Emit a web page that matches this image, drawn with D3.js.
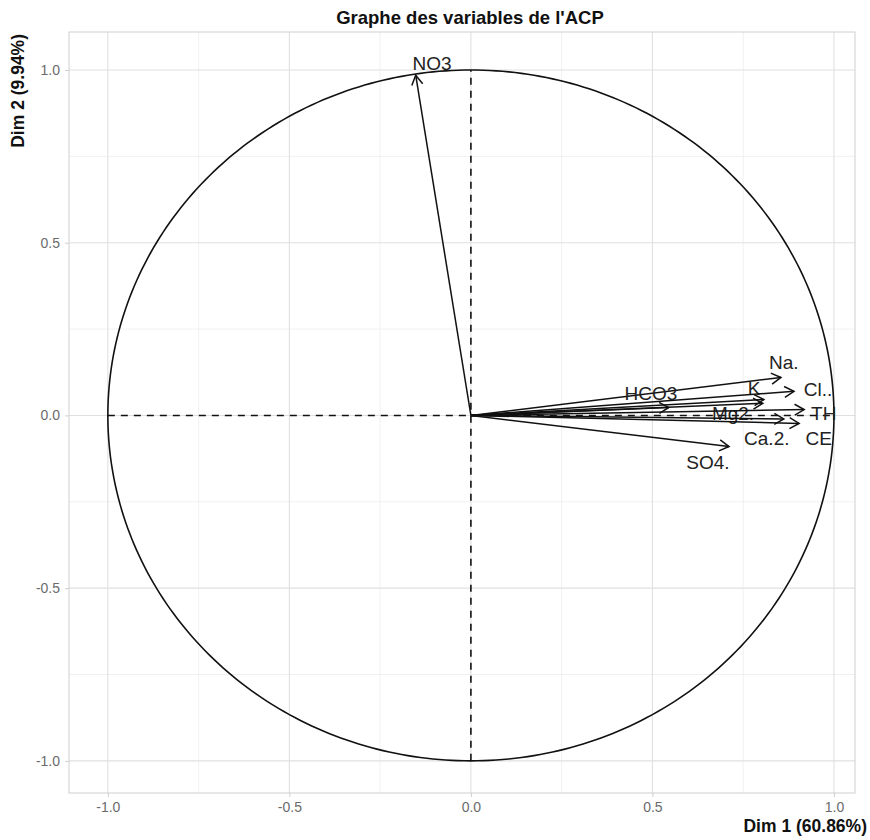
<!DOCTYPE html>
<html><head><meta charset="utf-8">
<script src="https://cdn.jsdelivr.net/npm/d3@7"></script>
<style>body{margin:0;background:#fff}</style>
</head><body>
<svg id="c" width="870" height="840"></svg>
<script>
const variables = ["NO3","Na.","K","Cl..","HCO3","Mg2.","TH","Ca.2.","CE","SO4."];
const dim1 = [-0.152, 0.854, 0.807, 0.890, 0.545, 0.804, 0.918, 0.862, 0.904, 0.711];
const dim2 = [0.985, 0.110, 0.046, 0.070, 0.023, 0.035, 0.017, -0.010, -0.023, -0.090];
const labelX = [-0.107, 0.862, 0.780, 0.956, 0.496, 0.722, 0.972, 0.815, 0.958, 0.653];
const labelY = [1.020, 0.153, 0.078, 0.075, 0.064, 0.006, 0.006, -0.067, -0.067, -0.136];
const ticks = [-1.0, -0.5, 0.0, 0.5, 1.0];
const tickLabels = ["-1.0", "-0.5", "0.0", "0.5", "1.0"];
const minorTicks = [-0.75, -0.25, 0.25, 0.75];
const title = "Graphe des variables de l'ACP";
const xTitle = "Dim 1 (60.86%)";
const yTitle = "Dim 2 (9.94%)";

const svg = d3.select("#c");
const L = 69, R = 855, T = 32, B = 793;
const x = d3.scaleLinear().domain([-1.107, 1.058]).range([L, R]);
const y = d3.scaleLinear().domain([-1.093, 1.110]).range([B, T]);
const font = "Liberation Sans, Arial, sans-serif";

const g = svg.append("g");
minorTicks.forEach(t => {
  g.append("line").attr("x1", x(t)).attr("x2", x(t)).attr("y1", T).attr("y2", B).attr("stroke", "#ececec").attr("stroke-width", 0.8);
  g.append("line").attr("y1", y(t)).attr("y2", y(t)).attr("x1", L).attr("x2", R).attr("stroke", "#ececec").attr("stroke-width", 0.8);
});
ticks.forEach(t => {
  g.append("line").attr("x1", x(t)).attr("x2", x(t)).attr("y1", T).attr("y2", B).attr("stroke", "#e0e0e0").attr("stroke-width", 1.1);
  g.append("line").attr("y1", y(t)).attr("y2", y(t)).attr("x1", L).attr("x2", R).attr("stroke", "#e0e0e0").attr("stroke-width", 1.1);
});
g.append("rect").attr("x", L).attr("y", T).attr("width", R - L).attr("height", B - T)
  .attr("fill", "none").attr("stroke", "#cfcfcf").attr("stroke-width", 1);

const fmt = d => tickLabels[ticks.indexOf(d)];
const xa = svg.append("g").attr("transform", `translate(0,${B})`)
  .call(d3.axisBottom(x).tickValues(ticks).tickFormat(fmt).tickSize(4).tickPadding(5));
const ya = svg.append("g").attr("transform", `translate(${L},0)`)
  .call(d3.axisLeft(y).tickValues(ticks).tickFormat(fmt).tickSize(4).tickPadding(5));
[xa, ya].forEach(a => {
  a.select(".domain").remove();
  a.selectAll(".tick line").attr("stroke", "#cfcfcf");
  a.selectAll(".tick text").attr("fill", "#6b6b6b").attr("font-size", 14).attr("font-family", font);
});

const circ = d3.range(0, 361).map(a => [Math.cos(a * Math.PI / 180), Math.sin(a * Math.PI / 180)]);
svg.append("path").datum(circ).attr("d", d3.line().x(d => x(d[0])).y(d => y(d[1])))
  .attr("fill", "none").attr("stroke", "#111").attr("stroke-width", 1.6);

svg.append("line").attr("x1", x(-1)).attr("x2", x(1)).attr("y1", y(0)).attr("y2", y(0))
  .attr("stroke", "#111").attr("stroke-width", 1.6).attr("stroke-dasharray", "7,6");
svg.append("line").attr("x1", x(0)).attr("x2", x(0)).attr("y1", y(-1)).attr("y2", y(1))
  .attr("stroke", "#111").attr("stroke-width", 1.6).attr("stroke-dasharray", "7,6");

const ag = svg.append("g");
variables.forEach((v, i) => {
  const x0 = x(0), y0 = y(0), x1 = x(dim1[i]), y1 = y(dim2[i]);
  ag.append("line").attr("x1", x0).attr("y1", y0).attr("x2", x1).attr("y2", y1)
    .attr("stroke", "#111").attr("stroke-width", 1.5);
  const ang = Math.atan2(y1 - y0, x1 - x0);
  const len = 11, spread = Math.PI / 6;
  const p1 = [x1 - len * Math.cos(ang - spread), y1 - len * Math.sin(ang - spread)];
  const p2 = [x1 - len * Math.cos(ang + spread), y1 - len * Math.sin(ang + spread)];
  ag.append("path").attr("d", `M${p1[0]},${p1[1]}L${x1},${y1}L${p2[0]},${p2[1]}`)
    .attr("fill", "none").attr("stroke", "#111").attr("stroke-width", 1.5);
  ag.append("text").attr("x", x(labelX[i])).attr("y", y(labelY[i])).attr("dy", "0.35em")
    .attr("text-anchor", "middle").attr("font-size", 19).attr("font-family", font)
    .attr("fill", "#222").text(v);
});

svg.append("text").attr("x", 470).attr("y", 24).attr("text-anchor", "middle")
  .attr("font-size", 18.5).attr("font-weight", "bold").attr("font-family", font).attr("fill", "#111").text(title);
svg.append("text").attr("x", 867).attr("y", 832).attr("text-anchor", "end")
  .attr("font-size", 17.5).attr("font-weight", "bold").attr("font-family", font).attr("fill", "#111").text(xTitle);
svg.append("text").attr("transform", `translate(24,${T + 2}) rotate(-90)`).attr("text-anchor", "end")
  .attr("font-size", 17.5).attr("font-weight", "bold").attr("font-family", font).attr("fill", "#111").text(yTitle);
</script>
</body></html>
